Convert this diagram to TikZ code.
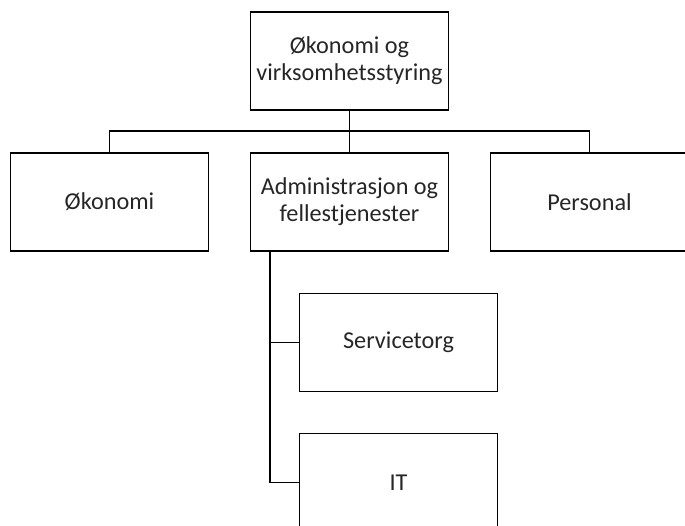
\documentclass[tikz,border=0pt]{standalone}
\usepackage{fontspec}
\setmainfont{Carlito}
\usetikzlibrary{calc, % for the trunk offset
                positioning}

\begin{document}
\begin{tikzpicture}[Unit/.style={draw, line width=1.1pt, rectangle,
                                 minimum width=3.96cm, minimum height=1.96cm,
                                 align=center, inner sep=2pt, text=black!85,
                                 font=\fontsize{13.8}{15.4}\selectfont},
                    link/.style={line width=1.1pt, line cap=rect}
                    ]
        \clip (0,0) rectangle (13.7,-10.52);
        \useasboundingbox (0,0) rectangle (13.7,-10.52);

        % top level and the three departments
        \node[Unit] (Top) at (6.99,-1.22) {Økonomi og\\virksomhetsstyring};
        \node[Unit] (Oko) at (2.19,-4.04) {Økonomi};
        \node[Unit] (Adm) at (6.99,-4.04) {Administrasjon og\\fellestjenester};
        \node[Unit] (Per) at (11.79,-4.04) {Personal};

        % sections under administration
        \node[Unit] (Srv) at (7.97,-6.85) {Servicetorg};
        \node[Unit] (IT)  at (7.97,-9.65) {IT};

        % bus between the levels
        \draw[link] (Top) -- (Adm);
        \draw[link] (Oko.north) -- ++(0,0.42) -| (Per.north);

        % trunk down the left side
        \coordinate (Trunk) at ($(Adm.south west)+(0.4,0)$);
        \draw[link] (Trunk) |- (Srv.west);
        \draw[link] (Trunk) |- (IT.west);
    \end{tikzpicture}
\end{document}
